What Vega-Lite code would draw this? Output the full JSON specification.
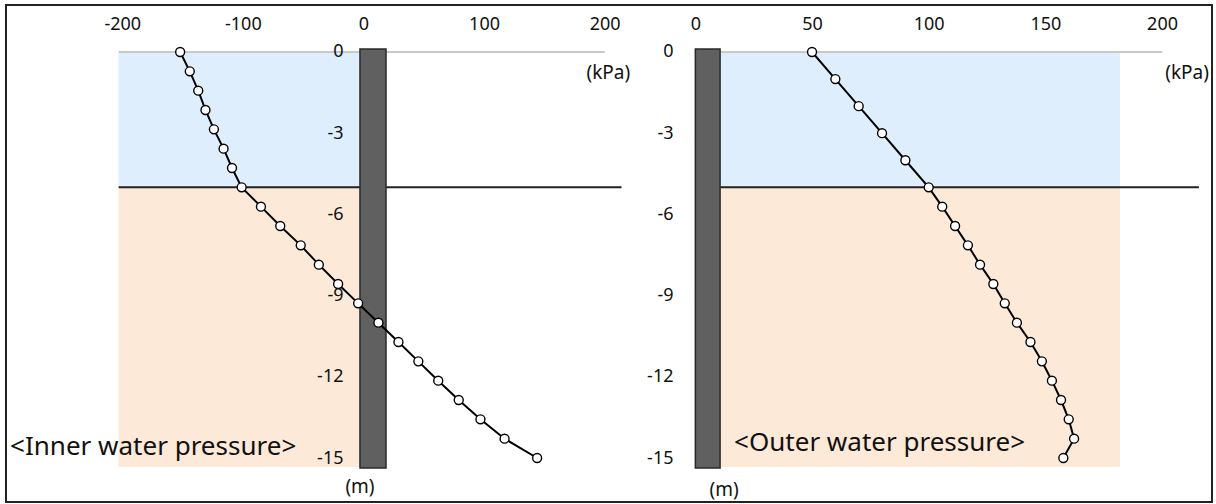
{
  "$schema": "https://vega.github.io/schema/vega-lite/v6.json",
  "width": 1206,
  "height": 497,
  "autosize": {"type": "none"},
  "padding": {"left": 6, "top": 5, "right": 4, "bottom": 2},
  "background": "white",
  "config": {
    "view": {"stroke": "#222222", "strokeWidth": 2},
    "font": "Noto Sans",
    "axis": {"labelFont": "Noto Sans", "labelFontSize": 18, "labelColor": "#111111", "domain": false, "ticks": false, "tickSize": 0, "grid": false, "labelPadding": 0, "labelExpr": "'' + datum.value"}
  },
  "datasets": {
    "inner": [
      {"d": 0, "p": -152}, {"d": -0.714, "p": -144}, {"d": -1.429, "p": -137}, {"d": -2.143, "p": -131},
      {"d": -2.857, "p": -124}, {"d": -3.571, "p": -116}, {"d": -4.286, "p": -109}, {"d": -5, "p": -101},
      {"d": -5.714, "p": -85}, {"d": -6.429, "p": -69}, {"d": -7.143, "p": -52}, {"d": -7.857, "p": -37},
      {"d": -8.571, "p": -21}, {"d": -9.286, "p": -4.4}, {"d": -10, "p": 12.4}, {"d": -10.714, "p": 29},
      {"d": -11.429, "p": 45.5}, {"d": -12.143, "p": 62}, {"d": -12.857, "p": 79}, {"d": -13.571, "p": 97},
      {"d": -14.286, "p": 117}, {"d": -15, "p": 144}
    ],
    "outer": [
      {"d": 0, "p": 50}, {"d": -1, "p": 60}, {"d": -2, "p": 70}, {"d": -3, "p": 80}, {"d": -4, "p": 90},
      {"d": -5, "p": 100}, {"d": -5.714, "p": 105.8}, {"d": -6.429, "p": 111.3}, {"d": -7.143, "p": 116.8},
      {"d": -7.857, "p": 122}, {"d": -8.571, "p": 127.7}, {"d": -9.286, "p": 132.6}, {"d": -10, "p": 137.8},
      {"d": -10.714, "p": 143.6}, {"d": -11.429, "p": 148.5}, {"d": -12.143, "p": 152.8}, {"d": -12.857, "p": 156.7},
      {"d": -13.571, "p": 160}, {"d": -14.286, "p": 162.3}, {"d": -15, "p": 157.7}
    ]
  },
  "data": {"values": [{}]},
  "layer": [
    {
      "layer": [
        {
          "mark": {"type": "rect", "fill": "#dfeefc"},
          "encoding": {
            "x": {"datum": -203, "type": "quantitative", "title": null, "scale": {"domain": [-296.4, 703.6], "nice": false, "zero": false},
                  "axis": {"orient": "top", "offset": -19, "values": [-200, -100, 0, 100, 200], "labelBaseline": "middle", "title": null, "zindex": 2}},
            "x2": {"datum": -3},
            "y": {"datum": 0, "type": "quantitative", "title": null, "scale": {"domain": [-16.625, 1.736], "nice": false, "zero": false},
                  "axis": {"orient": "left", "offset": -337, "values": [0, -3, -6, -9, -12, -15], "labelAlign": "right", "labelBaseline": "middle", "title": null, "zindex": 2}},
            "y2": {"datum": -5}
          }
        },
        {
          "mark": {"type": "rect", "fill": "#fde9d8"},
          "encoding": {
            "x": {"datum": -203, "type": "quantitative", "title": null},
            "x2": {"datum": -3},
            "y": {"datum": -5, "type": "quantitative", "title": null},
            "y2": {"datum": -15.33}
          }
        },
        {
          "mark": {"type": "rule", "stroke": "#c8c8c8", "strokeWidth": 2},
          "encoding": {
            "x": {"datum": -203, "type": "quantitative", "title": null},
            "x2": {"datum": 200},
            "y": {"datum": 0, "type": "quantitative", "title": null}
          }
        },
        {
          "mark": {"type": "rule", "stroke": "#222222", "strokeWidth": 2},
          "encoding": {
            "x": {"datum": -203, "type": "quantitative", "title": null},
            "x2": {"datum": 214},
            "y": {"datum": -5, "type": "quantitative", "title": null}
          }
        },
        {
          "mark": {"type": "rect", "fill": "#606060", "stroke": "#2a2a2a", "strokeWidth": 1.5},
          "encoding": {
            "x": {"datum": -2.9, "type": "quantitative", "title": null},
            "x2": {"datum": 18.7},
            "y": {"datum": 0.11, "type": "quantitative", "title": null},
            "y2": {"datum": -15.37}
          }
        },
        {
          "data": {"name": "inner"},
          "mark": {"type": "line", "color": "#000000", "strokeWidth": 2},
          "encoding": {
            "x": {"field": "p", "type": "quantitative", "title": null},
            "y": {"field": "d", "type": "quantitative", "title": null},
            "order": {"field": "d", "sort": "descending"}
          }
        },
        {
          "data": {"name": "inner"},
          "mark": {"type": "point", "shape": "circle", "filled": true, "fill": "#ffffff", "stroke": "#000000", "strokeWidth": 1.4, "size": 80, "opacity": 1},
          "encoding": {
            "x": {"field": "p", "type": "quantitative", "title": null},
            "y": {"field": "d", "type": "quantitative", "title": null}
          }
        },
        {
          "mark": {"type": "text", "text": "(kPa)", "fontSize": 19, "color": "#111111", "align": "center", "baseline": "middle"},
          "encoding": {
            "x": {"datum": 203, "type": "quantitative", "title": null},
            "y": {"datum": -0.78, "type": "quantitative", "title": null}
          }
        },
        {
          "mark": {"type": "text", "text": "(m)", "fontSize": 19, "color": "#111111", "align": "center", "baseline": "middle"},
          "encoding": {
            "x": {"datum": -2.9, "type": "quantitative", "title": null},
            "y": {"datum": -16.07, "type": "quantitative", "title": null}
          }
        },
        {
          "mark": {"type": "text", "text": "<Inner water pressure>", "fontSize": 26, "color": "#111111", "align": "left", "baseline": "middle"},
          "encoding": {
            "x": {"datum": -293, "type": "quantitative", "title": null},
            "y": {"datum": -14.59, "type": "quantitative", "title": null}
          }
        }
      ]
    },
    {
      "layer": [
        {
          "mark": {"type": "rect", "fill": "#dfeefc"},
          "encoding": {
            "x": {"datum": 10.6, "type": "quantitative", "title": null, "scale": {"domain": [-295.4, 221.4], "nice": false, "zero": false},
                  "axis": {"orient": "top", "offset": -19, "values": [0, 50, 100, 150, 200], "labelBaseline": "middle", "title": null, "zindex": 2}},
            "x2": {"datum": 182},
            "y": {"datum": 0, "type": "quantitative", "title": null, "scale": {"domain": [-16.625, 1.736], "nice": false, "zero": false},
                  "axis": {"orient": "left", "offset": -667, "values": [0, -3, -6, -9, -12, -15], "labelAlign": "right", "labelBaseline": "middle", "title": null, "zindex": 2}},
            "y2": {"datum": -5}
          }
        },
        {
          "mark": {"type": "rect", "fill": "#fde9d8"},
          "encoding": {
            "x": {"datum": 10.6, "type": "quantitative", "title": null},
            "x2": {"datum": 182},
            "y": {"datum": -5, "type": "quantitative", "title": null},
            "y2": {"datum": -15.33}
          }
        },
        {
          "mark": {"type": "rule", "stroke": "#c8c8c8", "strokeWidth": 2},
          "encoding": {
            "x": {"datum": 10.6, "type": "quantitative", "title": null},
            "x2": {"datum": 200},
            "y": {"datum": 0, "type": "quantitative", "title": null}
          }
        },
        {
          "mark": {"type": "rule", "stroke": "#222222", "strokeWidth": 2},
          "encoding": {
            "x": {"datum": 10.6, "type": "quantitative", "title": null},
            "x2": {"datum": 215.8},
            "y": {"datum": -5, "type": "quantitative", "title": null}
          }
        },
        {
          "mark": {"type": "rect", "fill": "#606060", "stroke": "#2a2a2a", "strokeWidth": 1.5},
          "encoding": {
            "x": {"datum": 0, "type": "quantitative", "title": null},
            "x2": {"datum": 10.6},
            "y": {"datum": 0.11, "type": "quantitative", "title": null},
            "y2": {"datum": -15.37}
          }
        },
        {
          "data": {"name": "outer"},
          "mark": {"type": "line", "color": "#000000", "strokeWidth": 2},
          "encoding": {
            "x": {"field": "p", "type": "quantitative", "title": null},
            "y": {"field": "d", "type": "quantitative", "title": null},
            "order": {"field": "d", "sort": "descending"}
          }
        },
        {
          "data": {"name": "outer"},
          "mark": {"type": "point", "shape": "circle", "filled": true, "fill": "#ffffff", "stroke": "#000000", "strokeWidth": 1.4, "size": 80, "opacity": 1},
          "encoding": {
            "x": {"field": "p", "type": "quantitative", "title": null},
            "y": {"field": "d", "type": "quantitative", "title": null}
          }
        },
        {
          "mark": {"type": "text", "text": "(kPa)", "fontSize": 19, "color": "#111111", "align": "center", "baseline": "middle"},
          "encoding": {
            "x": {"datum": 210.7, "type": "quantitative", "title": null},
            "y": {"datum": -0.78, "type": "quantitative", "title": null}
          }
        },
        {
          "mark": {"type": "text", "text": "(m)", "fontSize": 19, "color": "#111111", "align": "center", "baseline": "middle"},
          "encoding": {
            "x": {"datum": 12.3, "type": "quantitative", "title": null},
            "y": {"datum": -16.2, "type": "quantitative", "title": null}
          }
        },
        {
          "mark": {"type": "text", "text": "<Outer water pressure>", "fontSize": 26, "color": "#111111", "align": "left", "baseline": "middle"},
          "encoding": {
            "x": {"datum": 16.6, "type": "quantitative", "title": null},
            "y": {"datum": -14.45, "type": "quantitative", "title": null}
          }
        }
      ]
    }
  ],
  "resolve": {"scale": {"x": "independent", "y": "independent"}, "axis": {"x": "independent", "y": "independent"}}
}
